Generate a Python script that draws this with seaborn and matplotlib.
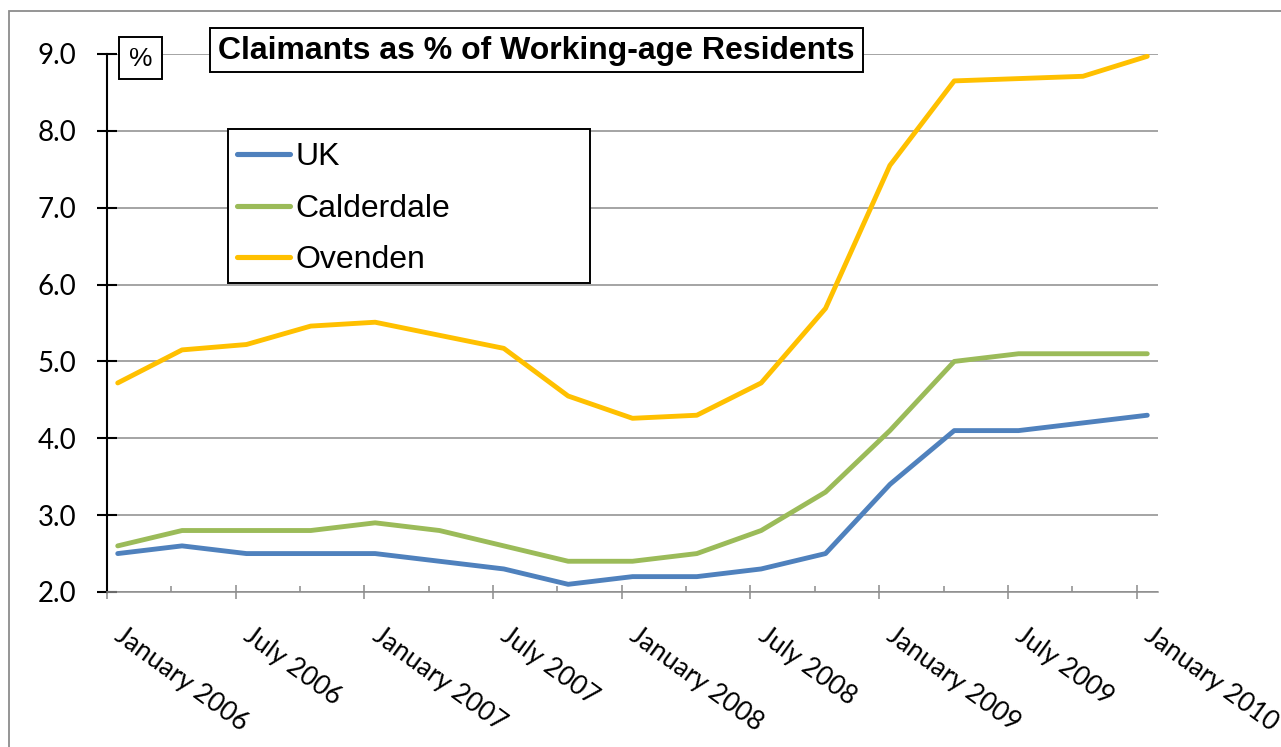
import numpy as np
import pandas as pd
import matplotlib
matplotlib.use("Agg")
import matplotlib.pyplot as plt
import matplotlib.transforms as mtransforms
import seaborn as sns
from matplotlib.patches import Rectangle
from matplotlib.ticker import FixedLocator

# quarterly readings, January 2006 .. January 2010
months = list(range(0, 49, 3))
uk = [2.5, 2.6, 2.5, 2.5, 2.5, 2.4, 2.3, 2.1, 2.2, 2.2, 2.3, 2.5, 3.4, 4.1, 4.1, 4.2, 4.3]
calderdale = [2.6, 2.8, 2.8, 2.8, 2.9, 2.8, 2.6, 2.4, 2.4, 2.5, 2.8, 3.3, 4.1, 5.0, 5.1, 5.1, 5.1]
ovenden = [4.72, 5.15, 5.22, 5.46, 5.51, 5.34, 5.17, 4.55, 4.26, 4.30, 4.72, 5.69, 7.55, 8.65, 8.68, 8.71, 8.97]
tick_labels = ["January 2006", "July 2006", "January 2007", "July 2007", "January 2008",
               "July 2008", "January 2009", "July 2009", "January 2010"]
y_ticks = [2.0, 3.0, 4.0, 5.0, 6.0, 7.0, 8.0, 9.0]

areas = ["UK", "Calderdale", "Ovenden"]
colors = {"UK": "#4F81BD", "Calderdale": "#9BBB59", "Ovenden": "#FFC000"}

# date axis: each point sits at the middle of its month
df = pd.concat([
    pd.DataFrame({"month": np.array(months) + 0.5, "value": vals, "area": name})
    for name, vals in zip(areas, [uk, calderdale, ovenden])
])

sns.set_theme(style="white")
plt.rcParams["font.family"] = ["Lato", "DejaVu Sans"]
plt.rcParams["text.color"] = "black"

W, H = 1281, 747
fig = plt.figure(figsize=(W / 100, H / 100), dpi=100)
ax = fig.add_axes([107 / W, 1 - 592 / H, (1158 - 107) / W, (592 - 54) / H])


def px(x, y):
    # pixel position (from top-left) -> figure fraction
    return x / W, 1 - y / H


sns.lineplot(data=df, x="month", y="value", hue="area", hue_order=areas,
             palette=colors, linewidth=3.5, ax=ax, legend=False)
for line in ax.lines:
    line.set_solid_capstyle("round")

ax.set_xlim(0, 49)
ax.set_ylim(2.0, 9.0)
ax.set_xlabel("")
ax.set_ylabel("")

ax.set_yticks(y_ticks)
ax.set_yticklabels([f"{v:.1f}" for v in y_ticks], fontsize=20, color="black")
ax.grid(axis="y", color="#8c8c8c", linewidth=1.1)
ax.set_axisbelow(True)

ax.set_xticks(list(range(0, 49, 6)))
ax.set_xticklabels(tick_labels, rotation=-36, ha="left", va="top",
                   rotation_mode="anchor", fontsize=19, color="black")
ax.xaxis.set_minor_locator(FixedLocator(list(range(3, 49, 6))))
ax.tick_params(axis="x", which="major", direction="inout", length=10, width=1.1,
               color="#8c8c8c", pad=17, bottom=True)
ax.tick_params(axis="x", which="minor", direction="in", length=4.3, width=1.1,
               color="#8c8c8c", bottom=True)
ax.tick_params(axis="y", which="major", direction="inout", length=14, width=1.5,
               color="black", pad=15, left=True)
# nudge the slanted labels to the right of their ticks (after tick_params)
shift = mtransforms.ScaledTranslation(18 / 100, 0, fig.dpi_scale_trans)
for lab in ax.get_xticklabels():
    lab.set_transform(lab.get_transform() + shift)

for side in ["top", "right"]:
    ax.spines[side].set_visible(False)
ax.spines["left"].set_color("black")
ax.spines["left"].set_linewidth(1.5)
ax.spines["bottom"].set_color("#8c8c8c")
ax.spines["bottom"].set_linewidth(1.1)


def boxed(x0, y0, x1, y1):
    ax.add_patch(Rectangle(px(x0, y1), (x1 - x0) / W, (y1 - y0) / H,
                           transform=fig.transFigure, facecolor="white", clip_on=False,
                           edgecolor="black", linewidth=1.4, zorder=3))


boxed(228, 129, 590, 283)
boxed(210, 28, 863, 72)
boxed(119, 37, 162, 79)

# legend (box drawn separately to match its wide frame)
handles = [plt.Line2D([], [], color=colors[a], linewidth=3.7, solid_capstyle="round") for a in areas]
leg = ax.legend(handles, areas, loc="upper left", bbox_to_anchor=px(237, 142),
                bbox_transform=fig.transFigure,
                prop={"family": ["Liberation Sans", "DejaVu Sans"], "size": 23},
                frameon=False, handlelength=1.65, handletextpad=0.18, labelspacing=0.68,
                borderpad=0, borderaxespad=0)
leg.set_zorder(6)

fig.text(*px(536.5, 51), "Claimants as % of Working-age Residents",
         ha="center", va="center", fontsize=23, fontweight="bold",
         family=["Liberation Sans", "DejaVu Sans"], zorder=5)
fig.text(*px(140.5, 59), "%", ha="center", va="center", fontsize=19,
         family=["Liberation Sans", "DejaVu Sans"], zorder=5)

# outer chart-area border
fig.patches.append(Rectangle(px(9, 760), 1.2, (760 - 11) / H, transform=fig.transFigure,
                             fill=False, edgecolor="#8c8c8c", linewidth=1.3, zorder=0))

fig.savefig("out.png", dpi=100, facecolor="white")
